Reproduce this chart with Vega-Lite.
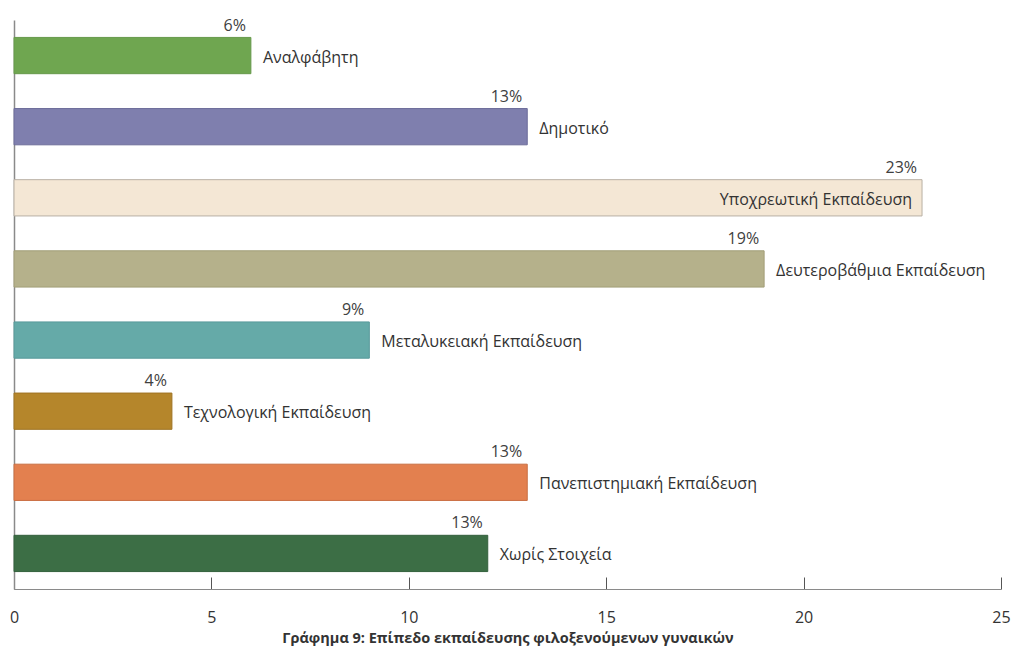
{
  "$schema": "https://vega.github.io/schema/vega-lite/v6.json",
  "autosize": "none",
  "width": 987,
  "height": 569,
  "padding": {"left": 14, "top": 20, "right": 12, "bottom": 64},
  "background": "white",
  "config": {"view": {"stroke": null}, "font": "Open Sans"},
  "data": {"values": [
    {"category": "Αναλφάβητη", "value": 6, "label": "6%"},
    {"category": "Δημοτικό", "value": 13, "label": "13%"},
    {"category": "Υποχρεωτική Εκπαίδευση", "value": 23, "label": "23%"},
    {"category": "Δευτεροβάθμια Εκπαίδευση", "value": 19, "label": "19%"},
    {"category": "Μεταλυκειακή Εκπαίδευση", "value": 9, "label": "9%"},
    {"category": "Τεχνολογική Εκπαίδευση", "value": 4, "label": "4%"},
    {"category": "Πανεπιστημιακή Εκπαίδευση", "value": 13, "label": "13%"},
    {"category": "Χωρίς Στοιχεία", "value": 12, "label": "13%"}
  ]},
  "encoding": {
    "y": {"field": "category", "type": "nominal", "sort": null,
      "scale": {"paddingInner": 0.49, "paddingOuter": 0.245},
      "axis": {"labels": false, "ticks": false, "title": null, "domainColor": "#8a8a8a", "domainWidth": 1.5}},
    "x": {"field": "value", "type": "quantitative",
      "scale": {"domain": [0, 25], "nice": false},
      "axis": {"values": [0, 5, 10, 15, 20, 25], "grid": false, "tickSize": -12, "tickColor": "#555", "domainColor": "#8a8a8a", "domainWidth": 1.2,
        "labelPadding": 32, "labelFontSize": 16, "labelColor": "#333", "labelFont": "Open Sans", "labelFlush": false,
        "title": "Γράφημα 9: Επίπεδο εκπαίδευσης φιλοξενούμενων γυναικών", "titleFontSize": 14.5, "titleFontWeight": "bold", "titleColor": "#333", "titlePadding": 6, "titleFont": "Open Sans"}}
  },
  "layer": [
    {
      "mark": {"type": "bar", "strokeWidth": 1},
      "encoding": {
        "color": {"field": "category", "type": "nominal", "sort": null, "legend": null,
          "scale": {"domain": ["Αναλφάβητη", "Δημοτικό", "Υποχρεωτική Εκπαίδευση", "Δευτεροβάθμια Εκπαίδευση", "Μεταλυκειακή Εκπαίδευση", "Τεχνολογική Εκπαίδευση", "Πανεπιστημιακή Εκπαίδευση", "Χωρίς Στοιχεία"],
            "range": ["#6fa650", "#7f7fae", "#f4e7d5", "#b5b18b", "#65aaa8", "#b5862b", "#e3804f", "#3c6e45"]}},
        "stroke": {"field": "category", "type": "nominal", "sort": null, "legend": null,
          "scale": {"domain": ["Αναλφάβητη", "Δημοτικό", "Υποχρεωτική Εκπαίδευση", "Δευτεροβάθμια Εκπαίδευση", "Μεταλυκειακή Εκπαίδευση", "Τεχνολογική Εκπαίδευση", "Πανεπιστημιακή Εκπαίδευση", "Χωρίς Στοιχεία"],
            "range": ["#66994a", "#6c6c9a", "#b8b0a4", "#a29e78", "#58999a", "#9f7424", "#c96e42", "#33603c"]}}
      }
    },
    {
      "mark": {"type": "text", "align": "right", "baseline": "bottom", "dx": -5, "dy": -22, "fontSize": 16, "color": "#404040"},
      "encoding": {"text": {"field": "label"}}
    },
    {
      "transform": [{"filter": "datum.category !== 'Υποχρεωτική Εκπαίδευση'"}],
      "mark": {"type": "text", "align": "left", "baseline": "middle", "dx": 12, "dy": 2, "fontSize": 16, "color": "#333"},
      "encoding": {"text": {"field": "category"}}
    },
    {
      "transform": [{"filter": "datum.category === 'Υποχρεωτική Εκπαίδευση'"}],
      "mark": {"type": "text", "align": "right", "baseline": "middle", "dx": -10, "dy": 2, "fontSize": 16, "color": "#333"},
      "encoding": {"text": {"field": "category"}}
    }
  ]
}
